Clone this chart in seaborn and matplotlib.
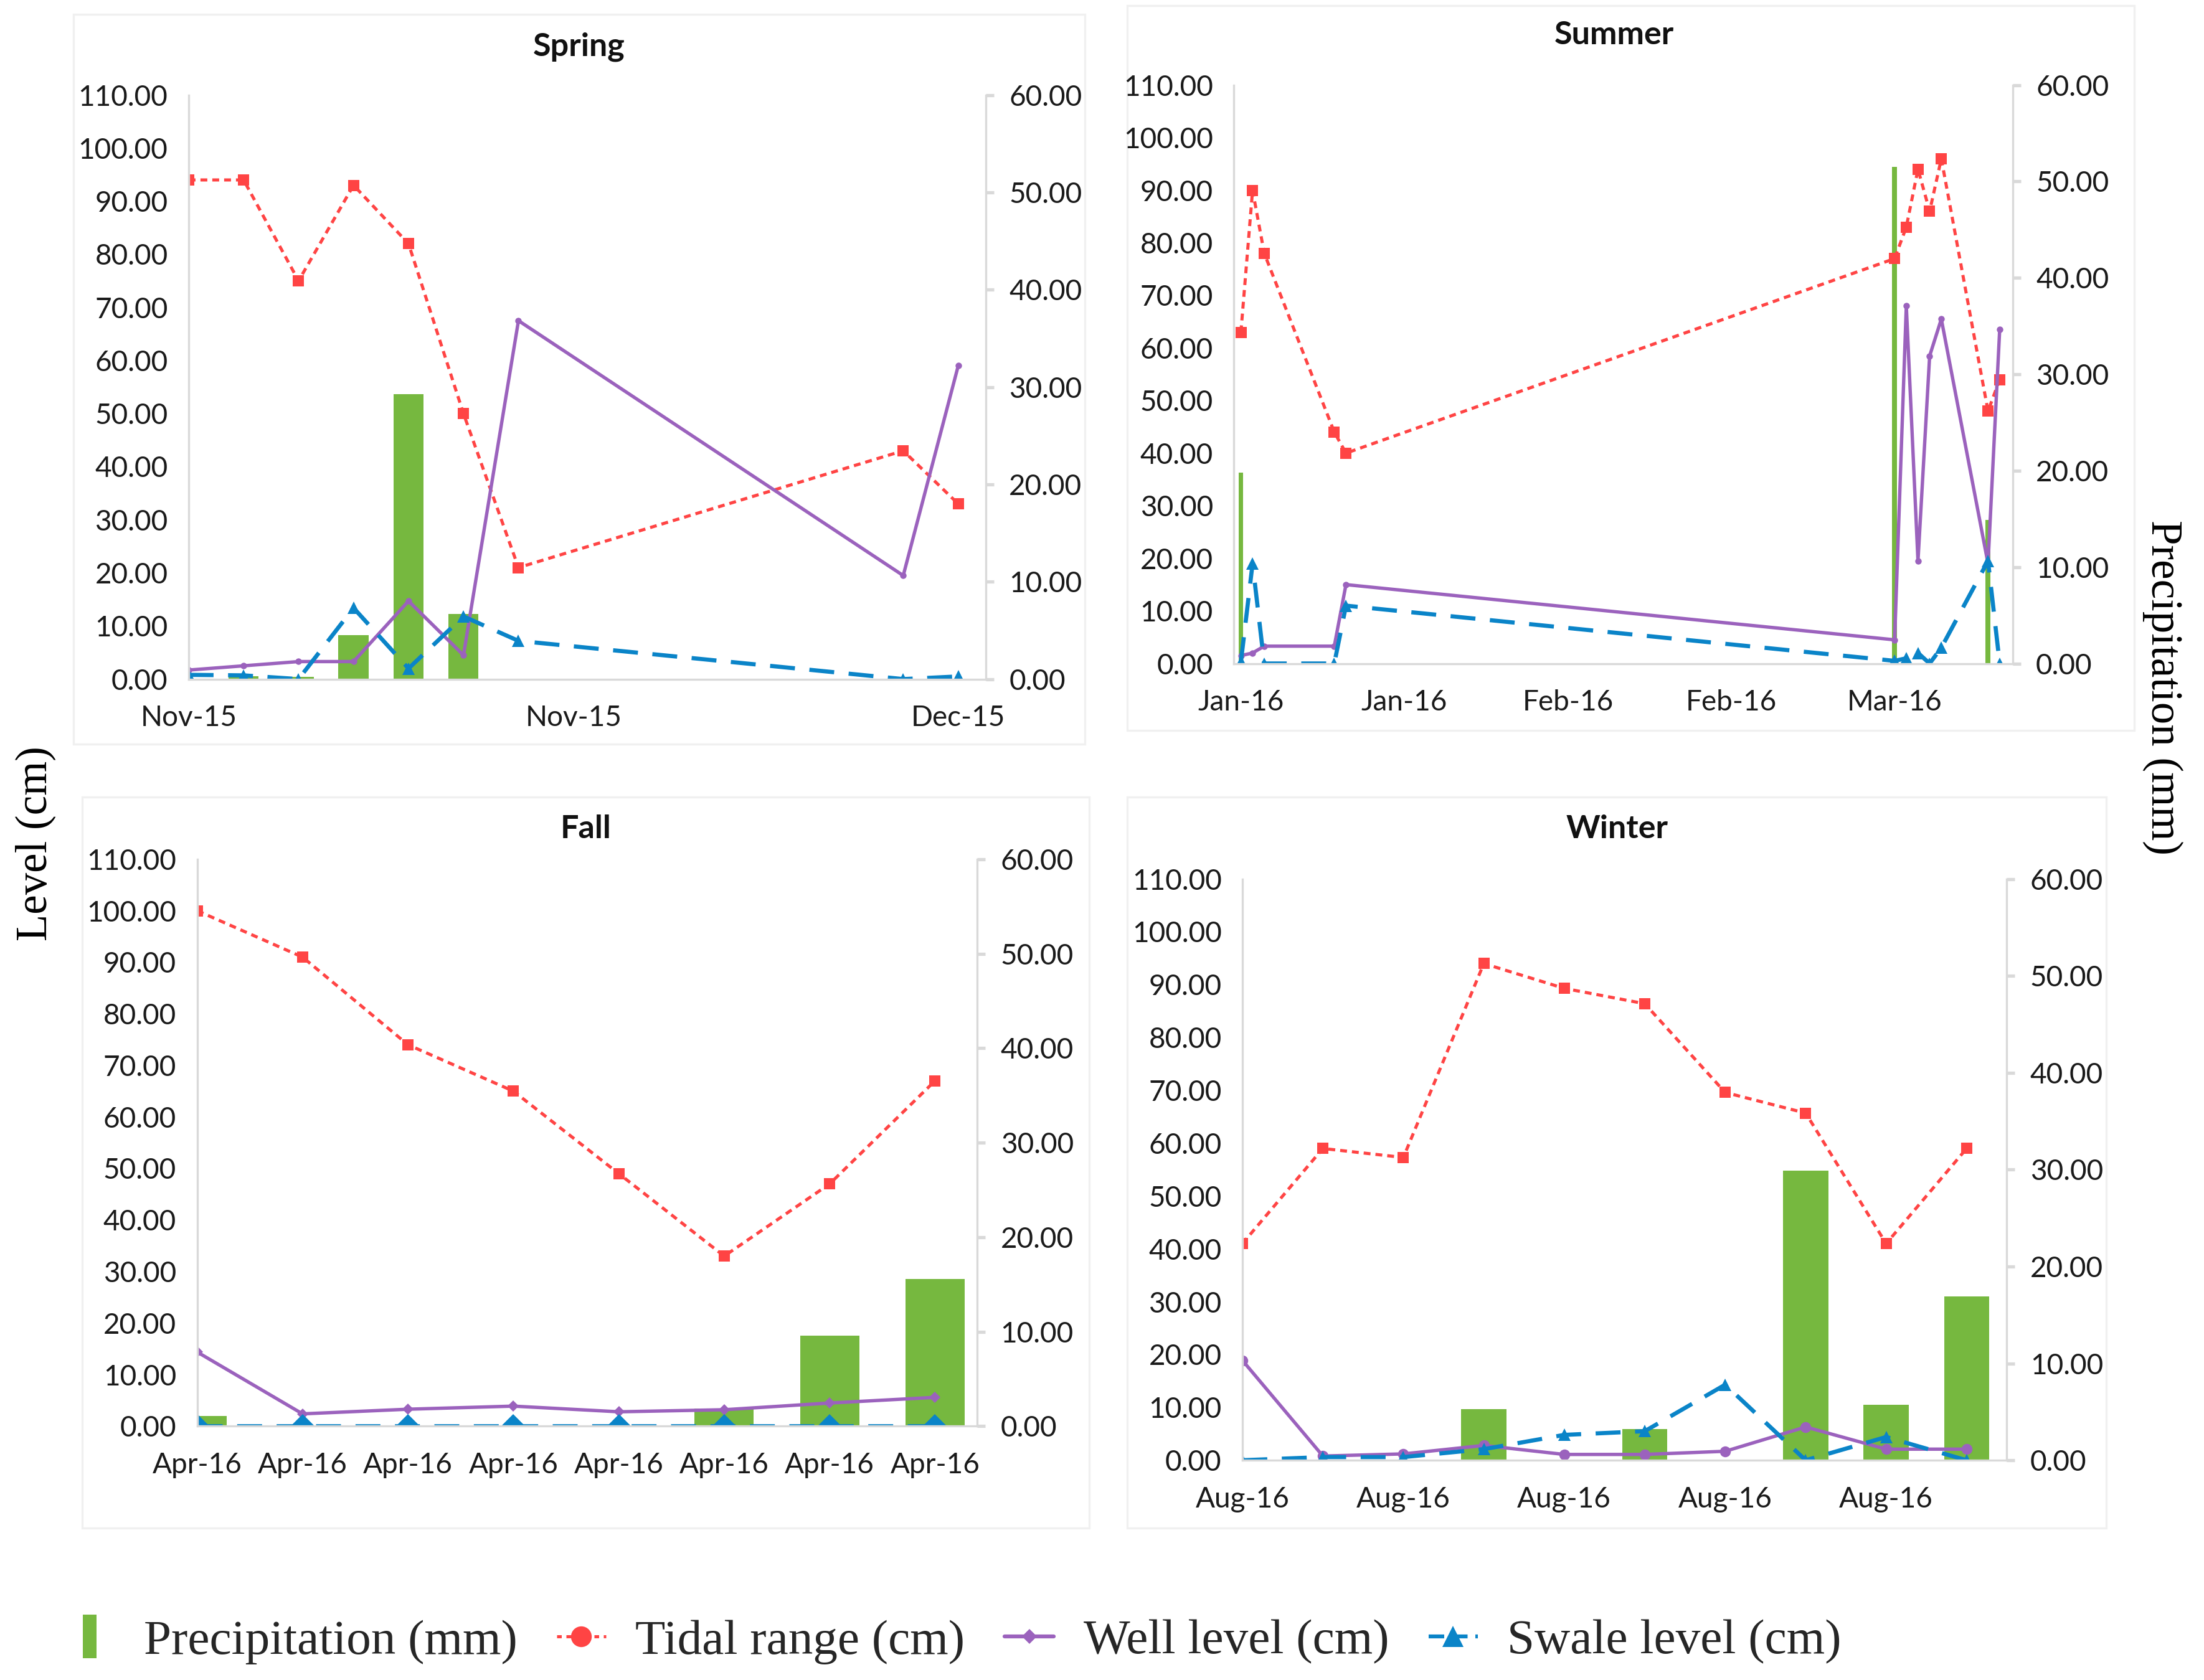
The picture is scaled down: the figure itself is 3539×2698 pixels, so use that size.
import matplotlib
matplotlib.use("Agg")
import matplotlib.pyplot as plt
from matplotlib.lines import Line2D
from matplotlib.patches import Rectangle
import seaborn as sns
import numpy as np

# ---------------- data ----------------
spring_x = [0, 1, 2, 3, 4, 5, 6, 13, 14]
spring_tidal = [94, 94, 75, 93, 82, 50, 21, 43, 33]
spring_well = [1.7, 2.5, 3.3, 3.3, 14.7, 4.5, 67.5, 19.5, 59]
spring_swale = [0.8, 0.7, 0.0, 13.4, 2.0, 11.8, 7.2, 0.0, 0.5]
spring_precip = [0.0, 0.3, 0.2, 4.5, 29.3, 6.7, 0.0, 0.0, 0.0]
spring_tick_x = [0, 7, 14]
spring_tick_labels = ["Nov-15", "Nov-15", "Dec-15"]

summer_x = [0, 1, 2, 8, 9, 56, 57, 58, 59, 60, 64, 65]
summer_tidal = [63, 90, 78, 44, 40, 77, 83, 94, 86, 96, 48, 54]
summer_well = [1.5, 2.0, 3.3, 3.3, 15, 4.5, 68, 19.5, 58.5, 65.5, 19, 63.5]
summer_swale = [0.3, 19, 0.0, 0.0, 11, 0.5, 1.0, 2.0, 0.0, 3.0, 19.5, 0.0]
summer_precip = [19.8, 0, 0, 0, 0, 51.5, 0, 0, 0, 0, 14.9, 0]
summer_tick_x = [0, 14, 28, 42, 56]
summer_tick_labels = ["Jan-16", "Jan-16", "Feb-16", "Feb-16", "Mar-16"]

fall_x = [0, 1, 2, 3, 4, 5, 6, 7]
fall_tidal = [100, 91, 74, 65, 49, 33, 47, 67]
fall_well = [14.4, 2.4, 3.3, 3.9, 2.8, 3.2, 4.5, 5.6]
fall_swale = [0, 0, 0, 0, 0, 0, 0, 0]
fall_precip = [1.1, 0, 0, 0, 0, 1.9, 9.6, 15.6]
fall_tick_x = [0, 1, 2, 3, 4, 5, 6, 7]
fall_tick_labels = ["Apr-16"] * 8

winter_x = [0, 1, 2, 3, 4, 5, 6, 7, 8, 9]
winter_tidal = [41, 59, 57.3, 94, 89.3, 86.4, 69.6, 65.7, 41, 59]
winter_well = [18.9, 0.8, 1.2, 2.8, 1.1, 1.1, 1.7, 6.3, 2.1, 2.1]
winter_swale = [0, 0.6, 0.6, 2.1, 4.8, 5.5, 14.3, 0, 4.4, 0]
winter_precip = [0, 0, 0, 5.3, 0, 3.2, 0, 29.9, 5.7, 16.9]
winter_tick_x = [0, 2, 4, 6, 8]
winter_tick_labels = ["Aug-16"] * 5

# ---------------- style ----------------
sns.set_theme(style="white")
TICK_FONT = ["Lato", "DejaVu Sans"]
SERIF = ["Liberation Serif", "DejaVu Serif"]
plt.rcParams["font.family"] = TICK_FONT

GREEN = "#76b83f"
RED = "#ff4444"
PURPLE = "#9b62bd"
BLUE = "#0a84c8"
SPINE = "#d9d9d9"

W, H = 1554.0, 1185.0


def rect(l, t, r, b):
    return [l / W, 1 - b / H, (r - l) / W, (b - t) / H]


fig = plt.figure(figsize=(3539 / 300, 2698 / 300), dpi=300)

panels = [
    dict(name="Spring", box=(133, 67, 695, 479), xlim=(0, 14.5), title=(408, 33),
         x=spring_x, tidal=spring_tidal, well=spring_well, swale=spring_swale,
         precip=spring_precip, tx=spring_tick_x, tl=spring_tick_labels, bw=0.55,
         frame=(52, 10, 765, 525), wm="o", wms=2.5, sm="^", sms=5),
    dict(name="Summer", box=(870, 60, 1419, 468), xlim=(-0.6, 66.1), title=(1138, 25),
         x=summer_x, tidal=summer_tidal, well=summer_well, swale=summer_swale,
         precip=summer_precip, tx=summer_tick_x, tl=summer_tick_labels, bw=0.4,
         frame=(795, 4, 1505, 515), wm="o", wms=2.5, sm="^", sms=5),
    dict(name="Fall", box=(139, 606, 689, 1006), xlim=(0, 7.4), title=(413, 585),
         x=fall_x, tidal=fall_tidal, well=fall_well, swale=fall_swale,
         precip=fall_precip, tx=fall_tick_x, tl=fall_tick_labels, bw=0.56,
         frame=(58, 562, 768, 1078), wm="D", wms=3, sm="D", sms=6.5),
    dict(name="Winter", box=(876, 620, 1415, 1030), xlim=(0, 9.5), title=(1140, 585),
         x=winter_x, tidal=winter_tidal, well=winter_well, swale=winter_swale,
         precip=winter_precip, tx=winter_tick_x, tl=winter_tick_labels, bw=0.56,
         frame=(795, 562, 1485, 1078), wm="o", wms=4.2, sm="^", sms=5),
]

for p in panels:
    fl, ft, fr, fb = p["frame"]
    fig.patches.append(Rectangle((fl / W, 1 - fb / H), (fr - fl) / W, (fb - ft) / H,
                                 transform=fig.transFigure, fill=False,
                                 edgecolor="#f0f0f0", linewidth=0.8, zorder=0))

    ax = fig.add_axes(rect(*p["box"]))
    ax2 = ax.twinx()
    ax.set_zorder(ax2.get_zorder() + 1)
    ax.patch.set_visible(False)

    # precipitation bars on the right axis
    ax2.bar(p["x"], p["precip"], width=p["bw"], color=GREEN, linewidth=0, zorder=1)
    ax2.set_ylim(0, 60)
    ax2.set_yticks(np.arange(0, 61, 10))
    ax2.set_yticklabels([f"{v:.2f}" for v in np.arange(0, 61, 10)])

    # level lines on the left axis
    sns.lineplot(x=p["x"], y=p["tidal"], ax=ax, color=RED, linewidth=1.2,
                 linestyle=(0, (2.2, 1.6)), marker="s", markersize=4.2,
                 markeredgewidth=0, sort=False, estimator=None)
    sns.lineplot(x=p["x"], y=p["well"], ax=ax, color=PURPLE, linewidth=1.3,
                 marker=p["wm"], markersize=p["wms"], markeredgewidth=0,
                 sort=False, estimator=None)
    sns.lineplot(x=p["x"], y=p["swale"], ax=ax, color=BLUE, linewidth=1.6,
                 linestyle=(0, (6, 3.5)), marker=p["sm"], markersize=p["sms"],
                 markeredgewidth=0, sort=False, estimator=None)

    ax.set_xlim(*p["xlim"])
    ax.set_ylim(0, 110)
    ax.set_yticks(np.arange(0, 111, 10))
    ax.set_yticklabels([f"{v:.2f}" for v in np.arange(0, 111, 10)])
    ax.set_xticks(p["tx"])
    ax.set_xticklabels(p["tl"])
    ax.set_xlabel("")
    ax.set_ylabel("")

    for a in (ax, ax2):
        a.spines["top"].set_visible(False)
        for s in ("left", "right", "bottom"):
            a.spines[s].set_color(SPINE)
            a.spines[s].set_linewidth(0.8)
    ax.spines["right"].set_visible(False)
    ax2.spines["left"].set_visible(False)
    ax2.spines["bottom"].set_visible(False)
    ax.tick_params(axis="both", length=0, labelsize=11, colors="#1a1a1a")
    ax.tick_params(axis="y", pad=8)
    ax.tick_params(axis="x", pad=10)
    ax2.tick_params(axis="y", length=3, color=SPINE, labelsize=11, labelcolor="#1a1a1a",
                    pad=6)
    ax2.grid(False)
    ax.grid(False)

    tx, ty = p["title"]
    fig.text(tx / W, 1 - ty / H, p["name"], ha="center", va="center",
             fontsize=12.5, fontweight="bold", color="#111111")

fig.text(25 / W, 1 - 595 / H, "Level (cm)", rotation=90, ha="center", va="center",
         fontsize=17, family=SERIF, color="black")
fig.text(1525 / W, 1 - 485 / H, "Precipitation (mm)", rotation=-90, ha="center",
         va="center", fontsize=17, family=SERIF, color="black")

bar_marker = [(-0.32, -1), (0.32, -1), (0.32, 1), (-0.32, 1), (-0.32, -1)]
handles = [
    Line2D([], [], linestyle="none", marker=bar_marker, markersize=17,
           color=GREEN, markeredgewidth=0),
    Line2D([], [], linestyle=(0, (1.5, 1.5)), linewidth=1.2, marker="o", markersize=8,
           color=RED, markeredgewidth=0),
    Line2D([], [], linestyle="-", linewidth=1.5, marker="D", markersize=4,
           color=PURPLE, markeredgewidth=0),
    Line2D([], [], linestyle=(0, (4, 2)), linewidth=1.5, marker="^", markersize=8,
           color=BLUE, markeredgewidth=0),
]
labels = ["Precipitation (mm)", "Tidal range (cm)", "Well level (cm)", "Swale level (cm)"]
fig.legend(handles, labels, loc="center", bbox_to_anchor=(672 / W, 1 - 1158 / H),
           ncol=4, frameon=False, prop={"family": SERIF, "size": 19},
           handlelength=1.0, handletextpad=0.6, columnspacing=0.8)

fig.savefig("out.png", dpi=300, facecolor="white")
